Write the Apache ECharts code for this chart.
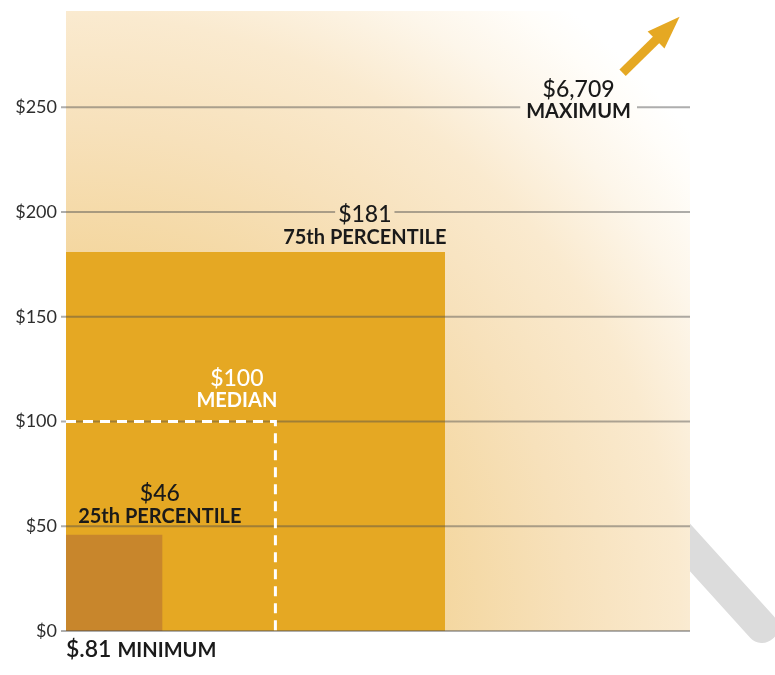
<!DOCTYPE html>
<html>
<head>
<meta charset="utf-8">
<script src="https://cdn.jsdelivr.net/npm/echarts@6/dist/echarts.min.js"></script>
<style>
  html, body { margin: 0; padding: 0; background: #ffffff; }
  #chart { width: 775px; height: 675px; }
</style>
</head>
<body>
<div id="chart"></div>
<script>
// Dollar thresholds of the distribution
const tickValues = [0, 50, 100, 150, 200, 250];
const percentileNames = ['MINIMUM', '25th PERCENTILE', 'MEDIAN', '75th PERCENTILE', 'MAXIMUM'];
const percentileValues = [0.81, 46, 100, 181, 6709];
const valueLabels = ['$.81', '$46', '$100', '$181', '$6,709'];

// ---- layout & style ----
const X_MAX = 298, Y_MAX = 296;
const GOLD = '#e5a823', BROWN = '#c8862c', INK = '#1a1a1a';
const FAMILY = 'Lato, "Open Sans", sans-serif';
const VALUE_FONT = '500 23px ' + FAMILY;
const MIN_VALUE_FONT = '600 23px ' + FAMILY;
const NAME_FONT = 'bold 20px ' + FAMILY;
const VALUE_LH = 24, NAME_LH = 21;
const RULE_COLOR = 'rgba(75,75,75,0.45)';
// where each percentile's caption block is centred, in axis units
const labelSpots = [[0, -9], [44.8, 60.4], [81.6, 115.7], [142.7, 193.7], [244.8, 253.6]];
const labelColors = [INK, INK, '#ffffff', INK, INK];

const measureCtx = document.createElement('canvas').getContext('2d');
function textWidth(str, font) { measureCtx.font = font; return measureCtx.measureText(str).width; }

// vertical centres of the two caption lines for a block centred at py
function captionLines(py) {
  const h = VALUE_LH + NAME_LH;
  return { valueY: py - h / 2 + VALUE_LH / 2, nameY: py + h / 2 - NAME_LH / 2 };
}

const filledIdx = [3, 1, 0];              // drawn largest first
const fillColors = { 3: GOLD, 1: BROWN, 0: BROWN };

const chart = echarts.init(document.getElementById('chart'), null, { renderer: 'canvas' });

chart.setOption({
  animation: false,
  backgroundColor: '#ffffff',
  grid: {
    left: 66, right: 85, top: 11, bottom: 44,
    show: true, borderWidth: 0,
    backgroundColor: {
      type: 'radial', x: 0, y: 1, r: 1.29,
      colorStops: [
        { offset: 0, color: '#eec072' },
        { offset: 0.47, color: '#f4d7a0' },
        { offset: 0.63, color: '#f7e1bb' },
        { offset: 0.77, color: '#faeacf' },
        { offset: 0.88, color: '#fdf6ea' },
        { offset: 0.96, color: '#fffdf9' },
        { offset: 1, color: '#ffffff' }
      ]
    }
  },
  graphic: [{
    type: 'line', z: -5,
    shape: { x1: 600, y1: 448, x2: 762, y2: 627 },
    style: { stroke: '#dcdcdc', lineWidth: 32, lineCap: 'round' }
  }],
  xAxis: { type: 'value', min: 0, max: X_MAX, show: false },
  yAxis: {
    type: 'value', min: 0, max: Y_MAX,
    axisLine: { show: false }, axisTick: { show: false }, splitLine: { show: false },
    axisLabel: {
      customValues: tickValues,
      formatter: v => '$' + v,
      margin: 9, fontSize: 18, color: '#2e2e2e', fontFamily: FAMILY
    }
  },
  series: [
    {
      // filled percentile squares: side length = dollar value on both axes
      type: 'custom', z: 2,
      data: filledIdx.map(i => [percentileValues[i], i]),
      renderItem: (params, api) => {
        const v = api.value(0), i = api.value(1);
        const p0 = api.coord([0, 0]), p1 = api.coord([v, v]);
        return {
          type: 'rect',
          shape: { x: p0[0], y: p1[1], width: p1[0] - p0[0], height: p0[1] - p1[1] },
          style: { fill: fillColors[i] }
        };
      }
    },
    {
      // horizontal rules, broken where a caption line crosses them
      type: 'custom', z: 3,
      data: tickValues.map(v => [v]),
      renderItem: (params, api) => {
        const v = api.value(0);
        const a = api.coord([0, v]), b = api.coord([X_MAX, v]);
        const y = a[1];
        const gaps = [];
        for (let i = 1; i < labelSpots.length; i++) {
          const c = api.coord(labelSpots[i]);
          const ln = captionLines(c[1]);
          if (Math.abs(y - ln.valueY) < 7) {
            const w = textWidth(valueLabels[i], VALUE_FONT);
            gaps.push([c[0] - w / 2 - 3, c[0] + w / 2 + 3]);
          }
          if (Math.abs(y - ln.nameY) < 7) {
            const w = textWidth(percentileNames[i], NAME_FONT);
            gaps.push([c[0] - w / 2 - 6, c[0] + w / 2 + 6]);
          }
        }
        gaps.sort((p, q) => p[0] - q[0]);
        const segs = [];
        let start = a[0] - 5;
        gaps.forEach(g => { segs.push([start, g[0]]); start = g[1]; });
        segs.push([start, b[0]]);
        return {
          type: 'group',
          children: segs.map(s => ({
            type: 'line',
            shape: { x1: s[0], y1: y, x2: s[1], y2: y },
            style: { stroke: RULE_COLOR, lineWidth: 2 }
          }))
        };
      }
    },
    {
      // median outlined square (dashed)
      type: 'custom', z: 4,
      data: [[percentileValues[2]]],
      renderItem: (params, api) => {
        const v = api.value(0);
        const p0 = api.coord([0, 0]), p1 = api.coord([v, v]);
        return {
          type: 'polyline',
          shape: { points: [[p0[0], p1[1]], [p1[0], p1[1]], [p1[0], p0[1]]] },
          style: { stroke: '#ffffff', lineWidth: 3, lineDash: [10, 7], fill: null }
        };
      }
    },
    {
      // captions and the off-scale arrow for the maximum
      type: 'custom', z: 5,
      data: labelSpots.map((s, i) => [s[0], s[1], i]),
      renderItem: (params, api) => {
        const i = api.value(2);
        const c = api.coord([api.value(0), api.value(1)]);
        const color = labelColors[i];
        if (i === 0) {
          const w = textWidth(valueLabels[0], MIN_VALUE_FONT);
          return {
            type: 'group',
            children: [
              { type: 'text', style: { text: valueLabels[0], x: c[0], y: c[1], font: MIN_VALUE_FONT, fill: color, align: 'left', verticalAlign: 'middle' } },
              { type: 'text', style: { text: percentileNames[0], x: c[0] + w + 6, y: c[1] + 1, font: NAME_FONT, fill: color, align: 'left', verticalAlign: 'middle' } }
            ]
          };
        }
        const ln = captionLines(c[1]);
        const children = [
          { type: 'text', style: { text: valueLabels[i], x: c[0], y: ln.valueY, font: VALUE_FONT, fill: color, align: 'center', verticalAlign: 'middle' } },
          { type: 'text', style: { text: percentileNames[i], x: c[0], y: ln.nameY, font: NAME_FONT, fill: color, align: 'center', verticalAlign: 'middle' } }
        ];
        if (i === 4) {
          const tail = [c[0] + 44, c[1] - 27], tip = [c[0] + 101, c[1] - 83];
          const dx = tip[0] - tail[0], dy = tip[1] - tail[1];
          const len = Math.hypot(dx, dy), ux = dx / len, uy = dy / len;
          const headLen = 33, halfW = 12;
          const base = [tip[0] - ux * headLen, tip[1] - uy * headLen];
          const nx = -uy, ny = ux;
          children.push({
            type: 'line',
            shape: { x1: tail[0], y1: tail[1], x2: base[0] + ux * 2, y2: base[1] + uy * 2 },
            style: { stroke: GOLD, lineWidth: 9 }
          });
          children.push({
            type: 'polygon',
            shape: { points: [tip, [base[0] + nx * halfW, base[1] + ny * halfW], [base[0] - nx * halfW, base[1] - ny * halfW]] },
            style: { fill: GOLD }
          });
        }
        return { type: 'group', children };
      }
    }
  ]
});
</script>
</body>
</html>
